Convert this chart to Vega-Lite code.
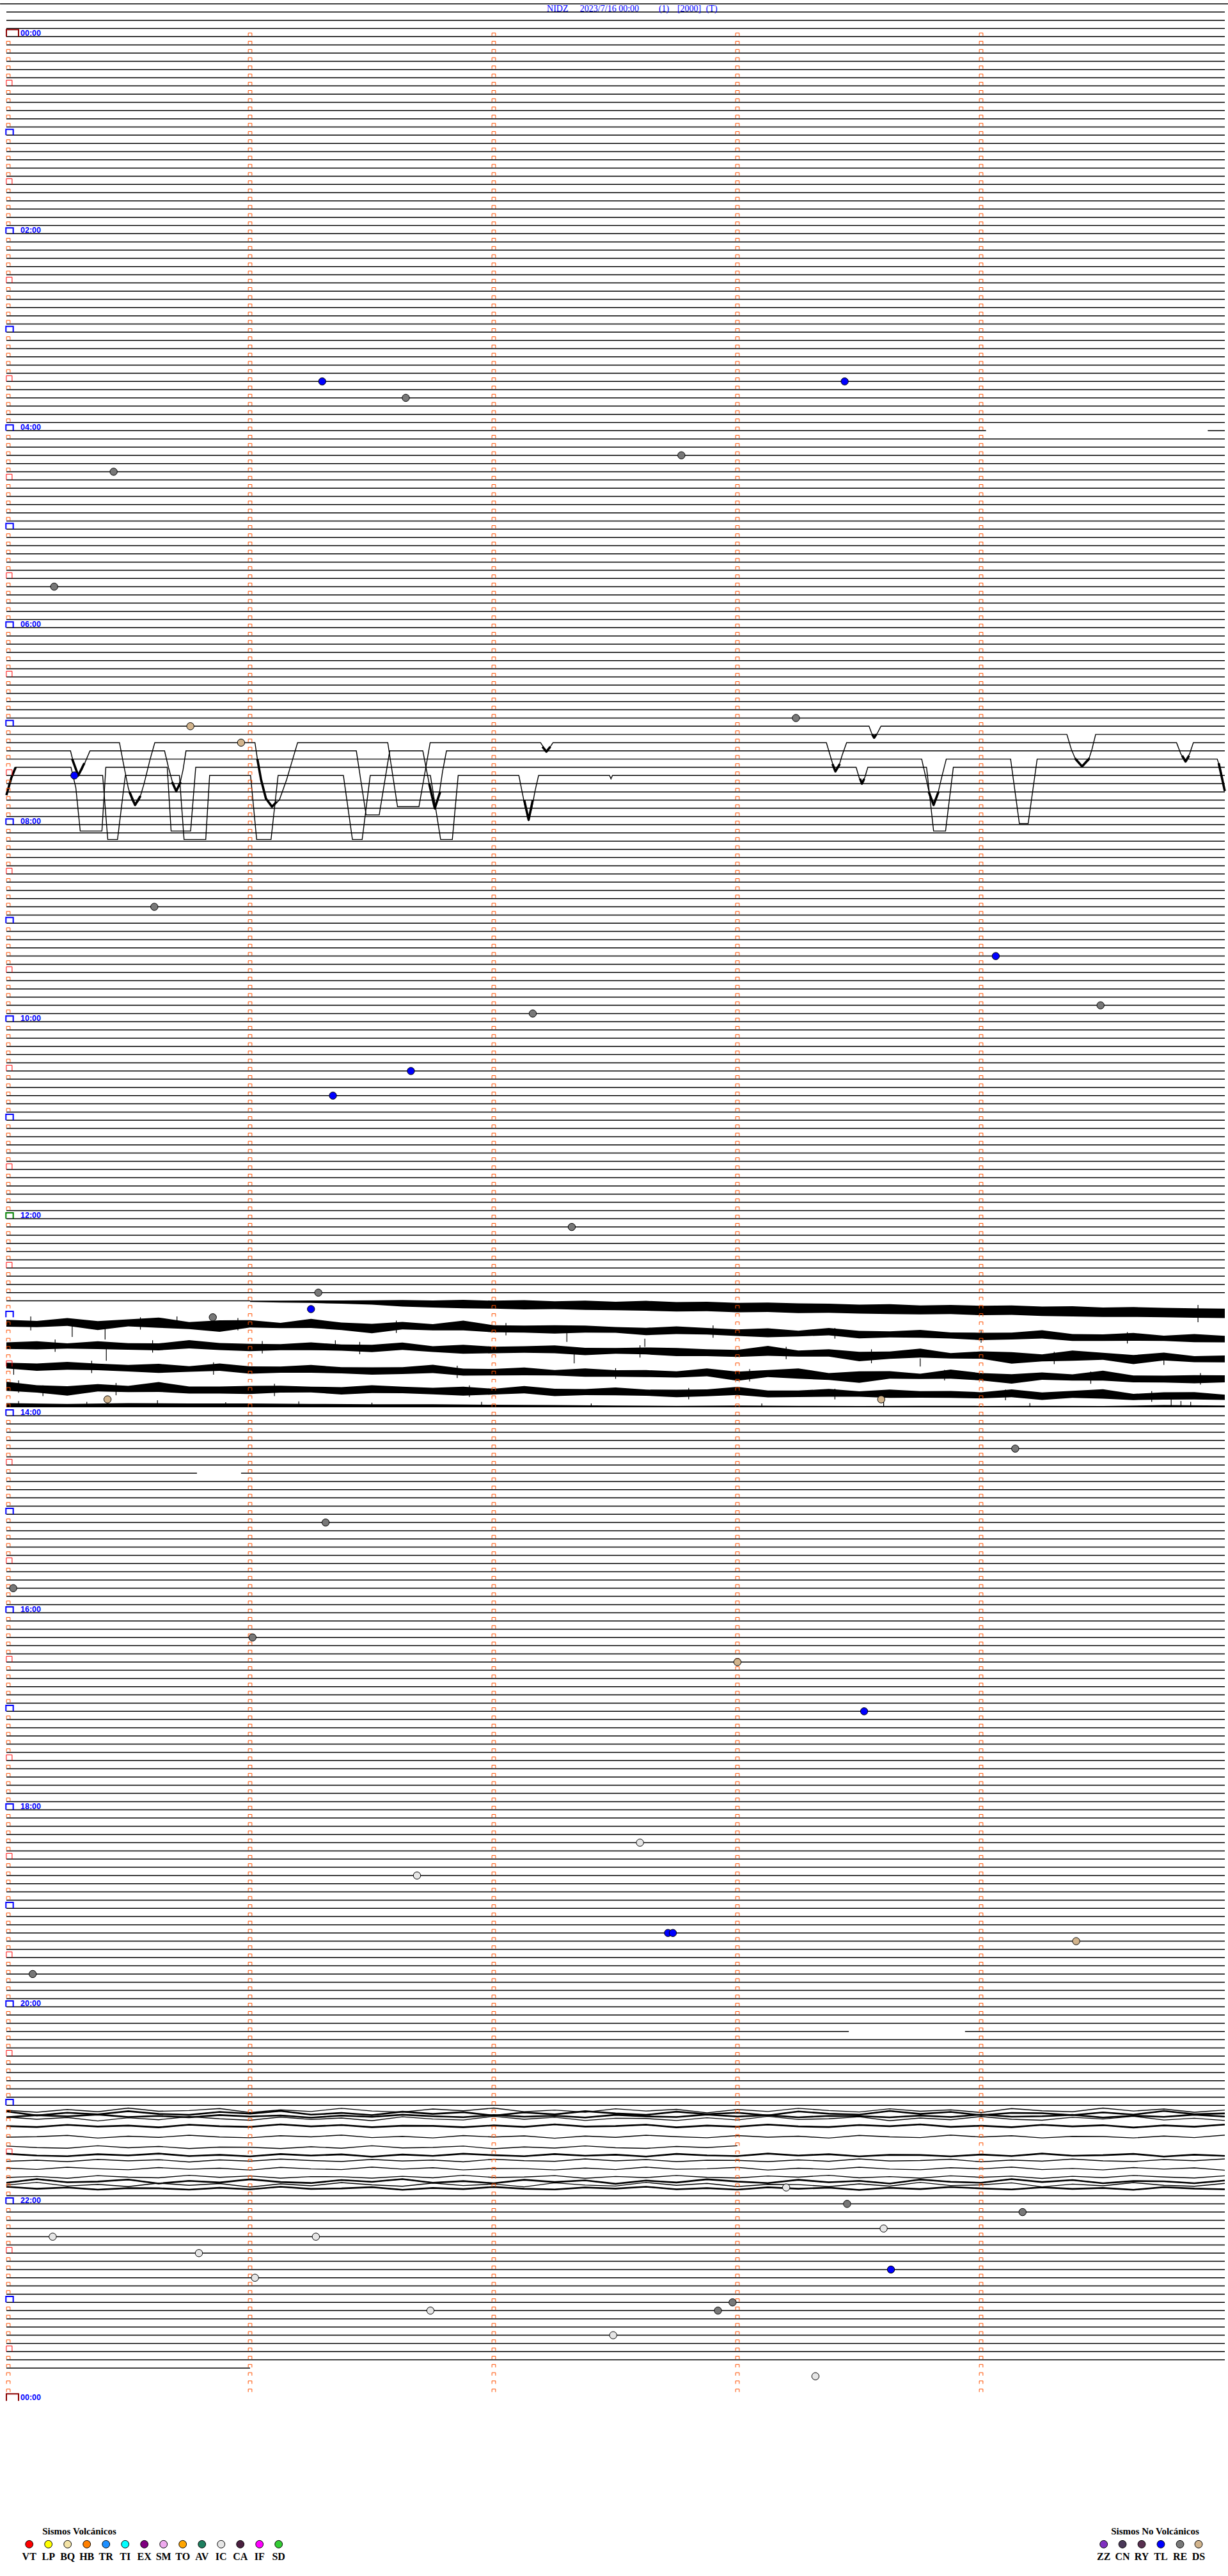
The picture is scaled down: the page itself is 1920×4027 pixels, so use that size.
{
"$schema":"https://vega.github.io/schema/vega-lite/v6.json",
"width":1920,"height":4027,"padding":0,"autosize":{"type":"none"},"background":"white",
"config":{"view":{"stroke":null}},
"datasets":{
"rows":[{"r":-4},{"r":-3},{"r":-2},{"r":-1},{"r":0},{"r":1},{"r":2},{"r":3},{"r":4},{"r":5},{"r":6},{"r":7},{"r":8},{"r":9},{"r":10},{"r":11},{"r":12},{"r":13},{"r":14},{"r":15},{"r":16},{"r":17},{"r":18},{"r":19},{"r":20},{"r":21},{"r":22},{"r":23},{"r":24},{"r":25},{"r":26},{"r":27},{"r":28},{"r":29},{"r":30},{"r":31},{"r":32},{"r":33},{"r":34},{"r":35},{"r":36},{"r":37},{"r":38},{"r":39},{"r":40},{"r":41},{"r":42},{"r":43},{"r":44},{"r":45},{"r":46},{"r":47},{"r":48},{"r":49},{"r":50},{"r":51},{"r":52},{"r":53},{"r":54},{"r":55},{"r":56},{"r":57},{"r":58},{"r":59},{"r":60},{"r":61},{"r":62},{"r":63},{"r":64},{"r":65},{"r":66},{"r":67},{"r":68},{"r":69},{"r":70},{"r":71},{"r":72},{"r":73},{"r":74},{"r":75},{"r":76},{"r":77},{"r":78},{"r":79},{"r":80},{"r":81},{"r":82},{"r":83},{"r":84},{"r":85},{"r":86},{"r":87},{"r":88},{"r":89},{"r":90},{"r":91},{"r":92},{"r":93},{"r":94},{"r":95},{"r":96},{"r":97},{"r":98},{"r":99},{"r":100},{"r":101},{"r":102},{"r":103},{"r":104},{"r":105},{"r":106},{"r":107},{"r":108},{"r":109},{"r":110},{"r":111},{"r":112},{"r":113},{"r":114},{"r":115},{"r":116},{"r":117},{"r":118},{"r":119},{"r":120},{"r":121},{"r":122},{"r":123},{"r":124},{"r":125},{"r":126},{"r":127},{"r":128},{"r":129},{"r":130},{"r":131},{"r":132},{"r":133},{"r":134},{"r":135},{"r":136},{"r":137},{"r":138},{"r":139},{"r":140},{"r":141},{"r":142},{"r":143},{"r":144},{"r":145},{"r":146},{"r":147},{"r":148},{"r":149},{"r":150},{"r":151},{"r":152},{"r":153},{"r":154},{"r":155},{"r":156},{"r":157},{"r":158},{"r":159},{"r":160},{"r":161},{"r":162},{"r":163},{"r":164},{"r":165},{"r":166},{"r":167},{"r":168},{"r":169},{"r":170},{"r":171},{"r":172},{"r":173},{"r":174},{"r":175},{"r":176},{"r":177},{"r":178},{"r":179},{"r":180},{"r":181},{"r":182},{"r":183},{"r":184},{"r":185},{"r":186},{"r":187},{"r":188},{"r":189},{"r":190},{"r":191},{"r":192},{"r":193},{"r":194},{"r":195},{"r":196},{"r":197},{"r":198},{"r":199},{"r":200},{"r":201},{"r":202},{"r":203},{"r":204},{"r":205},{"r":206},{"r":207},{"r":208},{"r":209},{"r":210},{"r":211},{"r":212},{"r":213},{"r":214},{"r":215},{"r":216},{"r":217},{"r":218},{"r":219},{"r":220},{"r":221},{"r":222},{"r":223},{"r":224},{"r":225},{"r":226},{"r":227},{"r":228},{"r":229},{"r":230},{"r":231},{"r":232},{"r":233},{"r":234},{"r":235},{"r":236},{"r":237},{"r":238},{"r":239},{"r":240},{"r":241},{"r":242},{"r":243},{"r":244},{"r":245},{"r":246},{"r":247},{"r":248},{"r":249},{"r":250},{"r":251},{"r":252},{"r":253},{"r":254},{"r":255},{"r":256},{"r":257},{"r":258},{"r":259},{"r":260},{"r":261},{"r":262},{"r":263},{"r":264},{"r":265},{"r":266},{"r":267},{"r":268},{"r":269},{"r":270},{"r":271},{"r":272},{"r":273},{"r":274},{"r":275},{"r":276},{"r":277},{"r":278},{"r":279},{"r":280},{"r":281},{"r":282},{"r":283},{"r":284},{"r":285},{"r":286},{"r":287},{"r":288}],
"segs":[{"r":-4,"t0":-0.026,"t1":5.013},{"r":48,"t0":0,"t1":4.02},{"r":48,"t0":4.93,"t1":5},{"r":154,"t0":0,"t1":1.0},{"r":175,"t0":0,"t1":0.782},{"r":175,"t0":0.963,"t1":5},{"r":243,"t0":0,"t1":3.457},{"r":243,"t0":3.934,"t1":5},{"r":284,"t0":0,"t1":1.0},{"r":166.9,"t0":0,"t1":5}],
"trx":[
{"k":"x1","t":0.27,"v":88},{"k":"x1","t":0.295,"v":90},{"k":"x1","t":0.32,"v":88.5},
{"k":"x2","t":0.505,"v":92},{"k":"x2","t":0.528,"v":93.6},{"k":"x2","t":0.55,"v":92.5},
{"k":"x3","t":0.68,"v":90.8},{"k":"x3","t":0.697,"v":91.9},{"k":"x3","t":0.715,"v":90.8},
{"k":"x4","t":1.03,"v":88},{"k":"x4","t":1.045,"v":90.5},{"k":"x4","t":1.065,"v":92.8},{"k":"x4","t":1.09,"v":93.8},{"k":"x4","t":1.11,"v":93.2},
{"k":"x5","t":1.735,"v":91},{"k":"x5","t":1.758,"v":94.0},{"k":"x5","t":1.78,"v":92},
{"k":"x6","t":2.2,"v":86.5},{"k":"x6","t":2.216,"v":87.1},{"k":"x6","t":2.232,"v":86.5},
{"k":"x7","t":2.125,"v":93},{"k":"x7","t":2.143,"v":95.4},{"k":"x7","t":2.16,"v":93},
{"k":"x8","t":3.39,"v":88.6},{"k":"x8","t":3.402,"v":89.5},{"k":"x8","t":3.42,"v":88.6},
{"k":"x9","t":3.503,"v":90.4},{"k":"x9","t":3.511,"v":91.0},{"k":"x9","t":3.52,"v":90.4},
{"k":"x10","t":3.553,"v":85},{"k":"x10","t":3.561,"v":85.4},{"k":"x10","t":3.57,"v":85},
{"k":"x11","t":3.785,"v":92},{"k":"x11","t":3.805,"v":93.6},{"k":"x11","t":3.825,"v":92},
{"k":"x12","t":4.385,"v":87.9},{"k":"x12","t":4.414,"v":88.9},{"k":"x12","t":4.445,"v":87.9},
{"k":"x13","t":4.825,"v":87.6},{"k":"x13","t":4.839,"v":88.3},{"k":"x13","t":4.853,"v":87.6},
{"k":"x14","t":0,"v":92.4},{"k":"x14","t":0.02,"v":90.3},{"k":"x14","t":0.038,"v":89},
{"k":"x15","t":4.975,"v":88.5},{"k":"x15","t":5,"v":91.9}
],
"tr":[
{"k":"A84","t":0,"v":84},{"k":"A84","t":3.54,"v":84},{"k":"A84","t":3.55,"v":84.8},{"k":"A84","t":3.561,"v":85.4},{"k":"A84","t":3.575,"v":84.8},{"k":"A84","t":3.589,"v":84},{"k":"A84","t":5,"v":84},
{"k":"A85","t":0,"v":85},{"k":"A85","t":4.352,"v":85},{"k":"A85","t":4.37,"v":86.8},{"k":"A85","t":4.39,"v":88.2},{"k":"A85","t":4.414,"v":88.9},{"k":"A85","t":4.44,"v":88.2},{"k":"A85","t":4.455,"v":86.8},{"k":"A85","t":4.47,"v":85},{"k":"A85","t":5,"v":85},
{"k":"A86","t":0,"v":86},{"k":"A86","t":0.464,"v":86},{"k":"A86","t":0.48,"v":88.5},{"k":"A86","t":0.5,"v":91.5},{"k":"A86","t":0.515,"v":93.0},{"k":"A86","t":0.528,"v":93.6},{"k":"A86","t":0.545,"v":93.0},{"k":"A86","t":0.565,"v":91.0},{"k":"A86","t":0.59,"v":88.0},{"k":"A86","t":0.609,"v":86},{"k":"A86","t":1.02,"v":86},{"k":"A86","t":1.03,"v":88},{"k":"A86","t":1.045,"v":90.5},{"k":"A86","t":1.065,"v":92.8},{"k":"A86","t":1.09,"v":93.8},{"k":"A86","t":1.12,"v":93.0},{"k":"A86","t":1.15,"v":90.5},{"k":"A86","t":1.175,"v":88},{"k":"A86","t":1.195,"v":86},{"k":"A86","t":1.565,"v":86},{"k":"A86","t":1.605,"v":93.8},{"k":"A86","t":1.693,"v":93.8},{"k":"A86","t":1.739,"v":86},{"k":"A86","t":2.192,"v":86},{"k":"A86","t":2.205,"v":86.6},{"k":"A86","t":2.216,"v":87.1},{"k":"A86","t":2.23,"v":86.6},{"k":"A86","t":2.243,"v":86},{"k":"A86","t":3.365,"v":86},{"k":"A86","t":3.38,"v":87.5},{"k":"A86","t":3.395,"v":89.0},{"k":"A86","t":3.402,"v":89.5},{"k":"A86","t":3.415,"v":89.0},{"k":"A86","t":3.43,"v":87.5},{"k":"A86","t":3.448,"v":86},{"k":"A86","t":4.802,"v":86},{"k":"A86","t":4.82,"v":87.4},{"k":"A86","t":4.839,"v":88.3},{"k":"A86","t":4.855,"v":87.4},{"k":"A86","t":4.871,"v":86},{"k":"A86","t":5,"v":86},
{"k":"A87","t":0,"v":87},{"k":"A87","t":0.263,"v":87},{"k":"A87","t":0.28,"v":89.0},{"k":"A87","t":0.295,"v":90.0},{"k":"A87","t":0.31,"v":89.3},{"k":"A87","t":0.343,"v":87},{"k":"A87","t":0.649,"v":87},{"k":"A87","t":0.665,"v":89},{"k":"A87","t":0.685,"v":91.2},{"k":"A87","t":0.697,"v":91.9},{"k":"A87","t":0.71,"v":91.3},{"k":"A87","t":0.725,"v":89.3},{"k":"A87","t":0.737,"v":87},{"k":"A87","t":1.436,"v":87},{"k":"A87","t":1.476,"v":94.8},{"k":"A87","t":1.53,"v":94.8},{"k":"A87","t":1.573,"v":87},{"k":"A87","t":1.709,"v":87},{"k":"A87","t":1.725,"v":89.5},{"k":"A87","t":1.745,"v":92.5},{"k":"A87","t":1.758,"v":94.0},{"k":"A87","t":1.775,"v":92.5},{"k":"A87","t":1.79,"v":89.5},{"k":"A87","t":1.806,"v":87},{"k":"A87","t":5,"v":87},
{"k":"A88","t":0,"v":88},{"k":"A88","t":3.756,"v":88},{"k":"A88","t":3.775,"v":90.5},{"k":"A88","t":3.79,"v":92.5},{"k":"A88","t":3.805,"v":93.6},{"k":"A88","t":3.82,"v":92.5},{"k":"A88","t":3.84,"v":90.0},{"k":"A88","t":3.857,"v":88},{"k":"A88","t":4.121,"v":88},{"k":"A88","t":4.157,"v":95.86},{"k":"A88","t":4.193,"v":95.86},{"k":"A88","t":4.23,"v":88},{"k":"A88","t":4.969,"v":88},{"k":"A88","t":4.985,"v":89.5},{"k":"A88","t":5,"v":91.9},
{"k":"A89","t":0,"v":92.4},{"k":"A89","t":0.01,"v":91.5},{"k":"A89","t":0.02,"v":90.3},{"k":"A89","t":0.03,"v":89.5},{"k":"A89","t":0.038,"v":89},{"k":"A89","t":0.265,"v":89},{"k":"A89","t":0.285,"v":91.5},{"k":"A89","t":0.303,"v":96.77},{"k":"A89","t":0.392,"v":96.77},{"k":"A89","t":0.408,"v":89},{"k":"A89","t":0.66,"v":89},{"k":"A89","t":0.676,"v":96.77},{"k":"A89","t":0.756,"v":96.77},{"k":"A89","t":0.777,"v":89},{"k":"A89","t":3.487,"v":89},{"k":"A89","t":3.5,"v":90.3},{"k":"A89","t":3.511,"v":91.0},{"k":"A89","t":3.522,"v":90.3},{"k":"A89","t":3.535,"v":89},{"k":"A89","t":3.776,"v":89},{"k":"A89","t":3.805,"v":96.77},{"k":"A89","t":3.854,"v":96.77},{"k":"A89","t":3.886,"v":89},{"k":"A89","t":5,"v":89},
{"k":"A90","t":0,"v":90},{"k":"A90","t":0.395,"v":90},{"k":"A90","t":0.416,"v":97.8},{"k":"A90","t":0.456,"v":97.8},{"k":"A90","t":0.488,"v":90},{"k":"A90","t":0.71,"v":90},{"k":"A90","t":0.729,"v":97.8},{"k":"A90","t":0.818,"v":97.8},{"k":"A90","t":0.834,"v":90},{"k":"A90","t":1.002,"v":90},{"k":"A90","t":1.027,"v":97.8},{"k":"A90","t":1.086,"v":97.8},{"k":"A90","t":1.115,"v":90},{"k":"A90","t":1.383,"v":90},{"k":"A90","t":1.42,"v":97.8},{"k":"A90","t":1.46,"v":97.8},{"k":"A90","t":1.493,"v":90},{"k":"A90","t":1.74,"v":90},{"k":"A90","t":1.782,"v":97.8},{"k":"A90","t":1.83,"v":97.8},{"k":"A90","t":1.854,"v":90},{"k":"A90","t":2.103,"v":90},{"k":"A90","t":2.115,"v":91.8},{"k":"A90","t":2.13,"v":94.0},{"k":"A90","t":2.143,"v":95.4},{"k":"A90","t":2.156,"v":94.0},{"k":"A90","t":2.17,"v":91.8},{"k":"A90","t":2.184,"v":90},{"k":"A90","t":2.475,"v":90},{"k":"A90","t":2.481,"v":90.4},{"k":"A90","t":2.487,"v":90},{"k":"A90","t":5,"v":90},
{"k":"C1","t":0,"v":252.60},{"k":"C1","t":0.125,"v":252.84},{"k":"C1","t":0.25,"v":252.51},{"k":"C1","t":0.375,"v":252.78},{"k":"C1","t":0.5,"v":252.33},{"k":"C1","t":0.625,"v":252.72},{"k":"C1","t":0.75,"v":252.63},{"k":"C1","t":0.875,"v":252.39},{"k":"C1","t":1,"v":252.87},{"k":"C1","t":1.125,"v":252.54},{"k":"C1","t":1.25,"v":252.75},{"k":"C1","t":1.375,"v":252.36},{"k":"C1","t":1.5,"v":252.69},{"k":"C1","t":1.625,"v":252.81},{"k":"C1","t":1.75,"v":252.45},{"k":"C1","t":1.875,"v":252.66},{"k":"C1","t":2,"v":252.33},{"k":"C1","t":2.125,"v":252.78},{"k":"C1","t":2.25,"v":252.57},{"k":"C1","t":2.375,"v":252.84},{"k":"C1","t":2.5,"v":252.42},{"k":"C1","t":2.625,"v":252.69},{"k":"C1","t":2.75,"v":252.48},{"k":"C1","t":2.875,"v":252.90},{"k":"C1","t":3,"v":252.51},{"k":"C1","t":3.125,"v":252.75},{"k":"C1","t":3.25,"v":252.36},{"k":"C1","t":3.375,"v":252.63},{"k":"C1","t":3.5,"v":252.81},{"k":"C1","t":3.625,"v":252.42},{"k":"C1","t":3.75,"v":252.72},{"k":"C1","t":3.875,"v":252.54},{"k":"C1","t":4,"v":252.87},{"k":"C1","t":4.125,"v":252.39},{"k":"C1","t":4.25,"v":252.66},{"k":"C1","t":4.375,"v":252.78},{"k":"C1","t":4.5,"v":252.33},{"k":"C1","t":4.625,"v":252.69},{"k":"C1","t":4.75,"v":252.45},{"k":"C1","t":4.875,"v":252.84},{"k":"C1","t":5,"v":252.57},
{"k":"C2","t":0,"v":252.74},{"k":"C2","t":0.125,"v":253.22},{"k":"C2","t":0.25,"v":252.89},{"k":"C2","t":0.375,"v":253.10},{"k":"C2","t":0.5,"v":252.71},{"k":"C2","t":0.625,"v":253.04},{"k":"C2","t":0.75,"v":253.16},{"k":"C2","t":0.875,"v":252.80},{"k":"C2","t":1,"v":253.01},{"k":"C2","t":1.125,"v":252.68},{"k":"C2","t":1.25,"v":253.13},{"k":"C2","t":1.375,"v":252.92},{"k":"C2","t":1.5,"v":253.19},{"k":"C2","t":1.625,"v":252.77},{"k":"C2","t":1.75,"v":253.04},{"k":"C2","t":1.875,"v":252.83},{"k":"C2","t":2,"v":253.25},{"k":"C2","t":2.125,"v":252.86},{"k":"C2","t":2.25,"v":253.10},{"k":"C2","t":2.375,"v":252.71},{"k":"C2","t":2.5,"v":252.98},{"k":"C2","t":2.625,"v":253.16},{"k":"C2","t":2.75,"v":252.77},{"k":"C2","t":2.875,"v":253.07},{"k":"C2","t":3,"v":252.89},{"k":"C2","t":3.125,"v":253.22},{"k":"C2","t":3.25,"v":252.74},{"k":"C2","t":3.375,"v":253.01},{"k":"C2","t":3.5,"v":253.13},{"k":"C2","t":3.625,"v":252.68},{"k":"C2","t":3.75,"v":253.04},{"k":"C2","t":3.875,"v":252.80},{"k":"C2","t":4,"v":253.19},{"k":"C2","t":4.125,"v":252.92},{"k":"C2","t":4.25,"v":252.95},{"k":"C2","t":4.375,"v":253.19},{"k":"C2","t":4.5,"v":252.86},{"k":"C2","t":4.625,"v":253.13},{"k":"C2","t":4.75,"v":252.68},{"k":"C2","t":4.875,"v":253.07},{"k":"C2","t":5,"v":252.98},
{"k":"C3","t":0,"v":253.44},{"k":"C3","t":0.125,"v":253.20},{"k":"C3","t":0.25,"v":253.34},{"k":"C3","t":0.375,"v":253.12},{"k":"C3","t":0.5,"v":253.42},{"k":"C3","t":0.625,"v":253.28},{"k":"C3","t":0.75,"v":253.46},{"k":"C3","t":0.875,"v":253.18},{"k":"C3","t":1,"v":253.36},{"k":"C3","t":1.125,"v":253.22},{"k":"C3","t":1.25,"v":253.50},{"k":"C3","t":1.375,"v":253.24},{"k":"C3","t":1.5,"v":253.40},{"k":"C3","t":1.625,"v":253.14},{"k":"C3","t":1.75,"v":253.32},{"k":"C3","t":1.875,"v":253.44},{"k":"C3","t":2,"v":253.18},{"k":"C3","t":2.125,"v":253.38},{"k":"C3","t":2.25,"v":253.26},{"k":"C3","t":2.375,"v":253.48},{"k":"C3","t":2.5,"v":253.16},{"k":"C3","t":2.625,"v":253.34},{"k":"C3","t":2.75,"v":253.42},{"k":"C3","t":2.875,"v":253.12},{"k":"C3","t":3,"v":253.36},{"k":"C3","t":3.125,"v":253.20},{"k":"C3","t":3.25,"v":253.46},{"k":"C3","t":3.375,"v":253.28},{"k":"C3","t":3.5,"v":253.30},{"k":"C3","t":3.625,"v":253.46},{"k":"C3","t":3.75,"v":253.24},{"k":"C3","t":3.875,"v":253.42},{"k":"C3","t":4,"v":253.12},{"k":"C3","t":4.125,"v":253.38},{"k":"C3","t":4.25,"v":253.32},{"k":"C3","t":4.375,"v":253.16},{"k":"C3","t":4.5,"v":253.48},{"k":"C3","t":4.625,"v":253.26},{"k":"C3","t":4.75,"v":253.40},{"k":"C3","t":4.875,"v":253.14},{"k":"C3","t":5,"v":253.36},
{"k":"C4","t":0,"v":253.42},{"k":"C4","t":0.125,"v":253.69},{"k":"C4","t":0.25,"v":253.48},{"k":"C4","t":0.375,"v":253.90},{"k":"C4","t":0.5,"v":253.51},{"k":"C4","t":0.625,"v":253.75},{"k":"C4","t":0.75,"v":253.36},{"k":"C4","t":0.875,"v":253.63},{"k":"C4","t":1,"v":253.81},{"k":"C4","t":1.125,"v":253.42},{"k":"C4","t":1.25,"v":253.72},{"k":"C4","t":1.375,"v":253.54},{"k":"C4","t":1.5,"v":253.87},{"k":"C4","t":1.625,"v":253.39},{"k":"C4","t":1.75,"v":253.66},{"k":"C4","t":1.875,"v":253.78},{"k":"C4","t":2,"v":253.33},{"k":"C4","t":2.125,"v":253.69},{"k":"C4","t":2.25,"v":253.45},{"k":"C4","t":2.375,"v":253.84},{"k":"C4","t":2.5,"v":253.57},{"k":"C4","t":2.625,"v":253.60},{"k":"C4","t":2.75,"v":253.84},{"k":"C4","t":2.875,"v":253.51},{"k":"C4","t":3,"v":253.78},{"k":"C4","t":3.125,"v":253.33},{"k":"C4","t":3.25,"v":253.72},{"k":"C4","t":3.375,"v":253.63},{"k":"C4","t":3.5,"v":253.39},{"k":"C4","t":3.625,"v":253.87},{"k":"C4","t":3.75,"v":253.54},{"k":"C4","t":3.875,"v":253.75},{"k":"C4","t":4,"v":253.36},{"k":"C4","t":4.125,"v":253.69},{"k":"C4","t":4.25,"v":253.81},{"k":"C4","t":4.375,"v":253.45},{"k":"C4","t":4.5,"v":253.66},{"k":"C4","t":4.625,"v":253.33},{"k":"C4","t":4.75,"v":253.78},{"k":"C4","t":4.875,"v":253.57},{"k":"C4","t":5,"v":253.84},
{"k":"C5","t":0,"v":254.52},{"k":"C5","t":0.125,"v":254.64},{"k":"C5","t":0.25,"v":254.38},{"k":"C5","t":0.375,"v":254.58},{"k":"C5","t":0.5,"v":254.46},{"k":"C5","t":0.625,"v":254.68},{"k":"C5","t":0.75,"v":254.36},{"k":"C5","t":0.875,"v":254.54},{"k":"C5","t":1,"v":254.62},{"k":"C5","t":1.125,"v":254.32},{"k":"C5","t":1.25,"v":254.56},{"k":"C5","t":1.375,"v":254.40},{"k":"C5","t":1.5,"v":254.66},{"k":"C5","t":1.625,"v":254.48},{"k":"C5","t":1.75,"v":254.50},{"k":"C5","t":1.875,"v":254.66},{"k":"C5","t":2,"v":254.44},{"k":"C5","t":2.125,"v":254.62},{"k":"C5","t":2.25,"v":254.32},{"k":"C5","t":2.375,"v":254.58},{"k":"C5","t":2.5,"v":254.52},{"k":"C5","t":2.625,"v":254.36},{"k":"C5","t":2.75,"v":254.68},{"k":"C5","t":2.875,"v":254.46},{"k":"C5","t":3,"v":254.60},{"k":"C5","t":3.125,"v":254.34},{"k":"C5","t":3.25,"v":254.56},{"k":"C5","t":3.375,"v":254.64},{"k":"C5","t":3.5,"v":254.40},{"k":"C5","t":3.625,"v":254.54},{"k":"C5","t":3.75,"v":254.32},{"k":"C5","t":3.875,"v":254.62},{"k":"C5","t":4,"v":254.48},{"k":"C5","t":4.125,"v":254.66},{"k":"C5","t":4.25,"v":254.38},{"k":"C5","t":4.375,"v":254.56},{"k":"C5","t":4.5,"v":254.42},{"k":"C5","t":4.625,"v":254.70},{"k":"C5","t":4.75,"v":254.44},{"k":"C5","t":4.875,"v":254.60},{"k":"C5","t":5,"v":254.34},
{"k":"C6","t":0,"v":255.88},{"k":"C6","t":0.125,"v":255.82},{"k":"C6","t":0.25,"v":255.66},{"k":"C6","t":0.375,"v":255.98},{"k":"C6","t":0.5,"v":255.76},{"k":"C6","t":0.625,"v":255.90},{"k":"C6","t":0.75,"v":255.64},{"k":"C6","t":0.875,"v":255.86},{"k":"C6","t":1,"v":255.94},{"k":"C6","t":1.125,"v":255.70},{"k":"C6","t":1.25,"v":255.84},{"k":"C6","t":1.375,"v":255.62},{"k":"C6","t":1.5,"v":255.92},{"k":"C6","t":1.625,"v":255.78},{"k":"C6","t":1.75,"v":255.96},{"k":"C6","t":1.875,"v":255.68},{"k":"C6","t":2,"v":255.86},{"k":"C6","t":2.125,"v":255.72},{"k":"C6","t":2.25,"v":256.00},{"k":"C6","t":2.375,"v":255.74},{"k":"C6","t":2.5,"v":255.90},{"k":"C6","t":2.625,"v":255.64},{"k":"C6","t":2.75,"v":255.82},{"k":"C6","t":2.875,"v":255.94},{"k":"C6","t":3,"v":255.68},{"k":"C6","t":3.125,"v":255.88},{"k":"C6","t":3.25,"v":255.76},{"k":"C6","t":3.375,"v":255.98},{"k":"C6","t":3.5,"v":255.66},{"k":"C6","t":3.625,"v":255.84},{"k":"C6","t":3.75,"v":255.92},{"k":"C6","t":3.875,"v":255.62},{"k":"C6","t":4,"v":255.86},{"k":"C6","t":4.125,"v":255.70},{"k":"C6","t":4.25,"v":255.96},{"k":"C6","t":4.375,"v":255.78},{"k":"C6","t":4.5,"v":255.80},{"k":"C6","t":4.625,"v":255.96},{"k":"C6","t":4.75,"v":255.74},{"k":"C6","t":4.875,"v":255.92},{"k":"C6","t":5,"v":255.62},
{"k":"C7","t":0,"v":256.96},{"k":"C7","t":0.125,"v":257.14},{"k":"C7","t":0.25,"v":257.22},{"k":"C7","t":0.375,"v":256.92},{"k":"C7","t":0.5,"v":257.16},{"k":"C7","t":0.625,"v":257.00},{"k":"C7","t":0.75,"v":257.26},{"k":"C7","t":0.875,"v":257.08},{"k":"C7","t":1,"v":257.10},{"k":"C7","t":1.125,"v":257.26},{"k":"C7","t":1.25,"v":257.04},{"k":"C7","t":1.375,"v":257.22},{"k":"C7","t":1.5,"v":256.92},{"k":"C7","t":1.625,"v":257.18},{"k":"C7","t":1.75,"v":257.12},{"k":"C7","t":1.875,"v":256.96},{"k":"C7","t":2,"v":257.28},{"k":"C7","t":2.125,"v":257.06},{"k":"C7","t":2.25,"v":257.20},{"k":"C7","t":2.375,"v":256.94},{"k":"C7","t":2.5,"v":257.16},{"k":"C7","t":2.625,"v":257.24},{"k":"C7","t":2.75,"v":257.00},{"k":"C7","t":2.875,"v":257.14},{"k":"C7","t":3,"v":256.92},
{"k":"C8","t":0,"v":257.89},{"k":"C8","t":0.125,"v":258.11},{"k":"C8","t":0.25,"v":258.19},{"k":"C8","t":0.375,"v":257.95},{"k":"C8","t":0.5,"v":258.09},{"k":"C8","t":0.625,"v":257.87},{"k":"C8","t":0.75,"v":258.17},{"k":"C8","t":0.875,"v":258.03},{"k":"C8","t":1,"v":258.21},{"k":"C8","t":1.125,"v":257.93},{"k":"C8","t":1.25,"v":258.11},{"k":"C8","t":1.375,"v":257.97},{"k":"C8","t":1.5,"v":258.25},{"k":"C8","t":1.625,"v":257.99},{"k":"C8","t":1.75,"v":258.15},{"k":"C8","t":1.875,"v":257.89},{"k":"C8","t":2,"v":258.07},{"k":"C8","t":2.125,"v":258.19},{"k":"C8","t":2.25,"v":257.93},{"k":"C8","t":2.375,"v":258.13},{"k":"C8","t":2.5,"v":258.01},{"k":"C8","t":2.625,"v":258.23},{"k":"C8","t":2.75,"v":257.91},{"k":"C8","t":2.875,"v":258.09},{"k":"C8","t":3,"v":258.17},{"k":"C8","t":3.125,"v":257.87},{"k":"C8","t":3.25,"v":258.11},{"k":"C8","t":3.375,"v":257.95},{"k":"C8","t":3.5,"v":258.21},{"k":"C8","t":3.625,"v":258.03},{"k":"C8","t":3.75,"v":258.05},{"k":"C8","t":3.875,"v":258.21},{"k":"C8","t":4,"v":257.99},{"k":"C8","t":4.125,"v":258.17},{"k":"C8","t":4.25,"v":257.87},{"k":"C8","t":4.375,"v":258.13},{"k":"C8","t":4.5,"v":258.07},{"k":"C8","t":4.625,"v":257.91},{"k":"C8","t":4.75,"v":258.23},{"k":"C8","t":4.875,"v":258.01},{"k":"C8","t":5,"v":258.15},
{"k":"C9","t":0,"v":258.82},{"k":"C9","t":0.125,"v":258.68},{"k":"C9","t":0.25,"v":258.86},{"k":"C9","t":0.375,"v":258.58},{"k":"C9","t":0.5,"v":258.76},{"k":"C9","t":0.625,"v":258.62},{"k":"C9","t":0.75,"v":258.90},{"k":"C9","t":0.875,"v":258.64},{"k":"C9","t":1,"v":258.80},{"k":"C9","t":1.125,"v":258.54},{"k":"C9","t":1.25,"v":258.72},{"k":"C9","t":1.375,"v":258.84},{"k":"C9","t":1.5,"v":258.58},{"k":"C9","t":1.625,"v":258.78},{"k":"C9","t":1.75,"v":258.66},{"k":"C9","t":1.875,"v":258.88},{"k":"C9","t":2,"v":258.56},{"k":"C9","t":2.125,"v":258.74},{"k":"C9","t":2.25,"v":258.82},{"k":"C9","t":2.375,"v":258.52},{"k":"C9","t":2.5,"v":258.76},{"k":"C9","t":2.625,"v":258.60},{"k":"C9","t":2.75,"v":258.86},{"k":"C9","t":2.875,"v":258.68},{"k":"C9","t":3,"v":258.70},{"k":"C9","t":3.125,"v":258.86},{"k":"C9","t":3.25,"v":258.64},{"k":"C9","t":3.375,"v":258.82},{"k":"C9","t":3.5,"v":258.52},{"k":"C9","t":3.625,"v":258.78},{"k":"C9","t":3.75,"v":258.72},{"k":"C9","t":3.875,"v":258.56},{"k":"C9","t":4,"v":258.88},{"k":"C9","t":4.125,"v":258.66},{"k":"C9","t":4.25,"v":258.80},{"k":"C9","t":4.375,"v":258.54},{"k":"C9","t":4.5,"v":258.76},{"k":"C9","t":4.625,"v":258.84},{"k":"C9","t":4.75,"v":258.60},{"k":"C9","t":4.875,"v":258.74},{"k":"C9","t":5,"v":258.52},
{"k":"C10","t":0,"v":259.64},{"k":"C10","t":0.125,"v":259.80},{"k":"C10","t":0.25,"v":259.54},{"k":"C10","t":0.375,"v":259.72},{"k":"C10","t":0.5,"v":259.84},{"k":"C10","t":0.625,"v":259.58},{"k":"C10","t":0.75,"v":259.78},{"k":"C10","t":0.875,"v":259.66},{"k":"C10","t":1,"v":259.88},{"k":"C10","t":1.125,"v":259.56},{"k":"C10","t":1.25,"v":259.74},{"k":"C10","t":1.375,"v":259.82},{"k":"C10","t":1.5,"v":259.52},{"k":"C10","t":1.625,"v":259.76},{"k":"C10","t":1.75,"v":259.60},{"k":"C10","t":1.875,"v":259.86},{"k":"C10","t":2,"v":259.68},{"k":"C10","t":2.125,"v":259.70},{"k":"C10","t":2.25,"v":259.86},{"k":"C10","t":2.375,"v":259.64},{"k":"C10","t":2.5,"v":259.82},{"k":"C10","t":2.625,"v":259.52},{"k":"C10","t":2.75,"v":259.78},{"k":"C10","t":2.875,"v":259.72},{"k":"C10","t":3,"v":259.56},{"k":"C10","t":3.125,"v":259.88},{"k":"C10","t":3.25,"v":259.66},{"k":"C10","t":3.375,"v":259.80},{"k":"C10","t":3.5,"v":259.54},{"k":"C10","t":3.625,"v":259.76},{"k":"C10","t":3.75,"v":259.84},{"k":"C10","t":3.875,"v":259.60},{"k":"C10","t":4,"v":259.74},{"k":"C10","t":4.125,"v":259.52},{"k":"C10","t":4.25,"v":259.82},{"k":"C10","t":4.375,"v":259.68},{"k":"C10","t":4.5,"v":259.86},{"k":"C10","t":4.625,"v":259.58},{"k":"C10","t":4.75,"v":259.76},{"k":"C10","t":4.875,"v":259.62},{"k":"C10","t":5,"v":259.90},
{"k":"C11","t":0,"v":260.78},{"k":"C11","t":0.125,"v":260.66},{"k":"C11","t":0.25,"v":260.88},{"k":"C11","t":0.375,"v":260.56},{"k":"C11","t":0.5,"v":260.74},{"k":"C11","t":0.625,"v":260.82},{"k":"C11","t":0.75,"v":260.52},{"k":"C11","t":0.875,"v":260.76},{"k":"C11","t":1,"v":260.60},{"k":"C11","t":1.125,"v":260.86},{"k":"C11","t":1.25,"v":260.68},{"k":"C11","t":1.375,"v":260.70},{"k":"C11","t":1.5,"v":260.86},{"k":"C11","t":1.625,"v":260.64},{"k":"C11","t":1.75,"v":260.82},{"k":"C11","t":1.875,"v":260.52},{"k":"C11","t":2,"v":260.78},{"k":"C11","t":2.125,"v":260.72},{"k":"C11","t":2.25,"v":260.56},{"k":"C11","t":2.375,"v":260.88},{"k":"C11","t":2.5,"v":260.66},{"k":"C11","t":2.625,"v":260.80},{"k":"C11","t":2.75,"v":260.54},{"k":"C11","t":2.875,"v":260.76},{"k":"C11","t":3,"v":260.84},{"k":"C11","t":3.125,"v":260.60},{"k":"C11","t":3.25,"v":260.74},{"k":"C11","t":3.375,"v":260.52},{"k":"C11","t":3.5,"v":260.82},{"k":"C11","t":3.625,"v":260.68},{"k":"C11","t":3.75,"v":260.86},{"k":"C11","t":3.875,"v":260.58},{"k":"C11","t":4,"v":260.76},{"k":"C11","t":4.125,"v":260.62},{"k":"C11","t":4.25,"v":260.90},{"k":"C11","t":4.375,"v":260.64},{"k":"C11","t":4.5,"v":260.80},{"k":"C11","t":4.625,"v":260.54},{"k":"C11","t":4.75,"v":260.72},{"k":"C11","t":4.875,"v":260.84},{"k":"C11","t":5,"v":260.58},
{"k":"C12","t":0,"v":261.43},{"k":"C12","t":0.125,"v":260.98},{"k":"C12","t":0.25,"v":261.37},{"k":"C12","t":0.375,"v":261.28},{"k":"C12","t":0.5,"v":261.04},{"k":"C12","t":0.625,"v":261.52},{"k":"C12","t":0.75,"v":261.19},{"k":"C12","t":0.875,"v":261.40},{"k":"C12","t":1,"v":261.01},{"k":"C12","t":1.125,"v":261.34},{"k":"C12","t":1.25,"v":261.46},{"k":"C12","t":1.375,"v":261.10},{"k":"C12","t":1.5,"v":261.31},{"k":"C12","t":1.625,"v":260.98},{"k":"C12","t":1.75,"v":261.43},{"k":"C12","t":1.875,"v":261.22},{"k":"C12","t":2,"v":261.49},{"k":"C12","t":2.125,"v":261.07},{"k":"C12","t":2.25,"v":261.34},{"k":"C12","t":2.375,"v":261.13},{"k":"C12","t":2.5,"v":261.55},{"k":"C12","t":2.625,"v":261.16},{"k":"C12","t":2.75,"v":261.40},{"k":"C12","t":2.875,"v":261.01},{"k":"C12","t":3,"v":261.28},{"k":"C12","t":3.125,"v":261.46},{"k":"C12","t":3.25,"v":261.07},{"k":"C12","t":3.375,"v":261.37},{"k":"C12","t":3.5,"v":261.19},{"k":"C12","t":3.625,"v":261.52},{"k":"C12","t":3.75,"v":261.04},{"k":"C12","t":3.875,"v":261.31},{"k":"C12","t":4,"v":261.43},{"k":"C12","t":4.125,"v":260.98},{"k":"C12","t":4.25,"v":261.34},{"k":"C12","t":4.375,"v":261.10},{"k":"C12","t":4.5,"v":261.49},{"k":"C12","t":4.625,"v":261.22},{"k":"C12","t":4.75,"v":261.25},{"k":"C12","t":4.875,"v":261.49},{"k":"C12","t":5,"v":261.16},
{"k":"C13","t":0,"v":261.71},{"k":"C13","t":0.125,"v":261.38},{"k":"C13","t":0.25,"v":261.83},{"k":"C13","t":0.375,"v":261.62},{"k":"C13","t":0.5,"v":261.89},{"k":"C13","t":0.625,"v":261.47},{"k":"C13","t":0.75,"v":261.74},{"k":"C13","t":0.875,"v":261.53},{"k":"C13","t":1,"v":261.95},{"k":"C13","t":1.125,"v":261.56},{"k":"C13","t":1.25,"v":261.80},{"k":"C13","t":1.375,"v":261.41},{"k":"C13","t":1.5,"v":261.68},{"k":"C13","t":1.625,"v":261.86},{"k":"C13","t":1.75,"v":261.47},{"k":"C13","t":1.875,"v":261.77},{"k":"C13","t":2,"v":261.59},{"k":"C13","t":2.125,"v":261.92},{"k":"C13","t":2.25,"v":261.44},{"k":"C13","t":2.375,"v":261.71},{"k":"C13","t":2.5,"v":261.83},{"k":"C13","t":2.625,"v":261.38},{"k":"C13","t":2.75,"v":261.74},{"k":"C13","t":2.875,"v":261.50},{"k":"C13","t":3,"v":261.89},{"k":"C13","t":3.125,"v":261.62},{"k":"C13","t":3.25,"v":261.65},{"k":"C13","t":3.375,"v":261.89},{"k":"C13","t":3.5,"v":261.56},{"k":"C13","t":3.625,"v":261.83},{"k":"C13","t":3.75,"v":261.38},{"k":"C13","t":3.875,"v":261.77},{"k":"C13","t":4,"v":261.68},{"k":"C13","t":4.125,"v":261.44},{"k":"C13","t":4.25,"v":261.92},{"k":"C13","t":4.375,"v":261.59},{"k":"C13","t":4.5,"v":261.80},{"k":"C13","t":4.625,"v":261.41},{"k":"C13","t":4.75,"v":261.74},{"k":"C13","t":4.875,"v":261.86},{"k":"C13","t":5,"v":261.50},
{"k":"C14","t":0,"v":261.92},{"k":"C14","t":0.125,"v":262.16},{"k":"C14","t":0.25,"v":262.00},{"k":"C14","t":0.375,"v":262.26},{"k":"C14","t":0.5,"v":262.08},{"k":"C14","t":0.625,"v":262.10},{"k":"C14","t":0.75,"v":262.26},{"k":"C14","t":0.875,"v":262.04},{"k":"C14","t":1,"v":262.22},{"k":"C14","t":1.125,"v":261.92},{"k":"C14","t":1.25,"v":262.18},{"k":"C14","t":1.375,"v":262.12},{"k":"C14","t":1.5,"v":261.96},{"k":"C14","t":1.625,"v":262.28},{"k":"C14","t":1.75,"v":262.06},{"k":"C14","t":1.875,"v":262.20},{"k":"C14","t":2,"v":261.94},{"k":"C14","t":2.125,"v":262.16},{"k":"C14","t":2.25,"v":262.24},{"k":"C14","t":2.375,"v":262.00},{"k":"C14","t":2.5,"v":262.14},{"k":"C14","t":2.625,"v":261.92},{"k":"C14","t":2.75,"v":262.22},{"k":"C14","t":2.875,"v":262.08},{"k":"C14","t":3,"v":262.26},{"k":"C14","t":3.125,"v":261.98},{"k":"C14","t":3.25,"v":262.16},{"k":"C14","t":3.375,"v":262.02},{"k":"C14","t":3.5,"v":262.30},{"k":"C14","t":3.625,"v":262.04},{"k":"C14","t":3.75,"v":262.20},{"k":"C14","t":3.875,"v":261.94},{"k":"C14","t":4,"v":262.12},{"k":"C14","t":4.125,"v":262.24},{"k":"C14","t":4.25,"v":261.98},{"k":"C14","t":4.375,"v":262.18},{"k":"C14","t":4.5,"v":262.06},{"k":"C14","t":4.625,"v":262.28},{"k":"C14","t":4.75,"v":261.96},{"k":"C14","t":4.875,"v":262.14},{"k":"C14","t":5,"v":262.22}
],
"bands":[
{"b":"B1","t":1.0,"lo":153.98,"hi":154.12},{"b":"B1","t":1.125,"lo":153.97,"hi":154.2},{"b":"B1","t":1.25,"lo":153.96,"hi":154.25},{"b":"B1","t":1.375,"lo":153.95,"hi":154.35},{"b":"B1","t":1.5,"lo":153.94,"hi":154.45},{"b":"B1","t":1.625,"lo":153.9,"hi":154.7},{"b":"B1","t":1.75,"lo":153.95,"hi":154.8},{"b":"B1","t":1.875,"lo":153.88,"hi":154.9},{"b":"B1","t":2.0,"lo":153.98,"hi":154.95},{"b":"B1","t":2.125,"lo":153.92,"hi":155.05},{"b":"B1","t":2.25,"lo":154.05,"hi":155.0},{"b":"B1","t":2.375,"lo":153.97,"hi":155.1},{"b":"B1","t":2.5,"lo":154.1,"hi":155.15},{"b":"B1","t":2.625,"lo":154.0,"hi":155.2},{"b":"B1","t":2.75,"lo":154.15,"hi":155.3},{"b":"B1","t":2.875,"lo":154.1,"hi":155.25},{"b":"B1","t":3.0,"lo":154.25,"hi":155.4},{"b":"B1","t":3.125,"lo":154.2,"hi":155.35},{"b":"B1","t":3.25,"lo":154.3,"hi":155.5},{"b":"B1","t":3.375,"lo":154.35,"hi":155.45},{"b":"B1","t":3.5,"lo":154.45,"hi":155.55},{"b":"B1","t":3.625,"lo":154.4,"hi":155.6},{"b":"B1","t":3.75,"lo":154.55,"hi":155.65},{"b":"B1","t":3.875,"lo":154.5,"hi":155.6},{"b":"B1","t":4.0,"lo":154.6,"hi":155.75},{"b":"B1","t":4.125,"lo":154.55,"hi":155.7},{"b":"B1","t":4.25,"lo":154.7,"hi":155.85},{"b":"B1","t":4.375,"lo":154.65,"hi":155.9},{"b":"B1","t":4.5,"lo":154.8,"hi":155.95},{"b":"B1","t":4.625,"lo":154.75,"hi":155.95},{"b":"B1","t":4.75,"lo":154.85,"hi":156.0},{"b":"B1","t":4.875,"lo":154.9,"hi":156.05},{"b":"B1","t":5.0,"lo":154.95,"hi":156.1},
{"b":"B2","t":0,"lo":156.30,"hi":157.15},{"b":"B2","t":0.125,"lo":156.45,"hi":157.20},{"b":"B2","t":0.25,"lo":156.09,"hi":157.04},{"b":"B2","t":0.375,"lo":156.46,"hi":157.56},{"b":"B2","t":0.5,"lo":156.25,"hi":157.10},{"b":"B2","t":0.625,"lo":156.03,"hi":157.28},{"b":"B2","t":0.75,"lo":156.58,"hi":157.43},{"b":"B2","t":0.875,"lo":156.37,"hi":157.77},{"b":"B2","t":1,"lo":156.35,"hi":157.25},{"b":"B2","t":1.125,"lo":156.67,"hi":157.32},{"b":"B2","t":1.25,"lo":156.20,"hi":157.30},{"b":"B2","t":1.375,"lo":156.65,"hi":157.55},{"b":"B2","t":1.5,"lo":156.80,"hi":157.95},{"b":"B2","t":1.625,"lo":156.57,"hi":157.47},{"b":"B2","t":1.75,"lo":156.84,"hi":157.59},{"b":"B2","t":1.875,"lo":156.40,"hi":157.60},{"b":"B2","t":2,"lo":156.98,"hi":157.83},{"b":"B2","t":2.125,"lo":157.01,"hi":157.86},{"b":"B2","t":2.25,"lo":156.98,"hi":157.98},{"b":"B2","t":2.375,"lo":157.01,"hi":157.86},{"b":"B2","t":2.5,"lo":157.18,"hi":157.88},{"b":"B2","t":2.625,"lo":157.28,"hi":158.18},{"b":"B2","t":2.75,"lo":157.10,"hi":158.05},{"b":"B2","t":2.875,"lo":157.30,"hi":158.10},{"b":"B2","t":3,"lo":157.47,"hi":158.27},{"b":"B2","t":3.125,"lo":157.34,"hi":158.44},{"b":"B2","t":3.25,"lo":157.63,"hi":158.33},{"b":"B2","t":3.375,"lo":157.30,"hi":158.20},{"b":"B2","t":3.5,"lo":157.66,"hi":158.56},{"b":"B2","t":3.625,"lo":157.71,"hi":158.46},{"b":"B2","t":3.75,"lo":157.54,"hi":158.49},{"b":"B2","t":3.875,"lo":157.84,"hi":158.59},{"b":"B2","t":4,"lo":157.88,"hi":158.78},{"b":"B2","t":4.125,"lo":157.86,"hi":158.71},{"b":"B2","t":4.25,"lo":157.58,"hi":158.58},{"b":"B2","t":4.375,"lo":158.04,"hi":158.89},{"b":"B2","t":4.5,"lo":158.08,"hi":158.88},{"b":"B2","t":4.625,"lo":157.91,"hi":158.86},{"b":"B2","t":4.75,"lo":158.23,"hi":158.88},{"b":"B2","t":4.875,"lo":158.04,"hi":159.04},{"b":"B2","t":5,"lo":158.25,"hi":159.05},
{"b":"B3","t":0,"lo":159.05,"hi":159.85},{"b":"B3","t":0.125,"lo":158.91,"hi":159.91},{"b":"B3","t":0.25,"lo":159.17,"hi":159.82},{"b":"B3","t":0.375,"lo":158.92,"hi":159.87},{"b":"B3","t":0.5,"lo":159.16,"hi":159.96},{"b":"B3","t":0.625,"lo":159.18,"hi":160.03},{"b":"B3","t":0.75,"lo":158.79,"hi":159.79},{"b":"B3","t":0.875,"lo":159.14,"hi":159.99},{"b":"B3","t":1,"lo":159.23,"hi":160.13},{"b":"B3","t":1.125,"lo":159.27,"hi":160.02},{"b":"B3","t":1.25,"lo":159.06,"hi":160.01},{"b":"B3","t":1.375,"lo":159.31,"hi":160.06},{"b":"B3","t":1.5,"lo":159.35,"hi":160.25},{"b":"B3","t":1.625,"lo":159.08,"hi":159.98},{"b":"B3","t":1.75,"lo":159.52,"hi":160.22},{"b":"B3","t":1.875,"lo":159.34,"hi":160.44},{"b":"B3","t":2,"lo":159.58,"hi":160.38},{"b":"B3","t":2.125,"lo":159.52,"hi":160.32},{"b":"B3","t":2.25,"lo":159.43,"hi":160.38},{"b":"B3","t":2.375,"lo":159.72,"hi":160.62},{"b":"B3","t":2.5,"lo":159.73,"hi":160.43},{"b":"B3","t":2.625,"lo":159.67,"hi":160.52},{"b":"B3","t":2.75,"lo":159.74,"hi":160.74},{"b":"B3","t":2.875,"lo":159.89,"hi":160.74},{"b":"B3","t":3,"lo":159.97,"hi":160.82},{"b":"B3","t":3.125,"lo":159.49,"hi":160.69},{"b":"B3","t":3.25,"lo":160.04,"hi":160.79},{"b":"B3","t":3.375,"lo":159.89,"hi":160.79},{"b":"B3","t":3.5,"lo":160.21,"hi":161.36},{"b":"B3","t":3.625,"lo":160.17,"hi":161.07},{"b":"B3","t":3.75,"lo":159.81,"hi":160.91},{"b":"B3","t":3.875,"lo":160.37,"hi":161.02},{"b":"B3","t":4,"lo":160.15,"hi":161.05},{"b":"B3","t":4.125,"lo":160.24,"hi":161.64},{"b":"B3","t":4.25,"lo":160.52,"hi":161.37},{"b":"B3","t":4.375,"lo":160.04,"hi":161.29},{"b":"B3","t":4.5,"lo":160.32,"hi":161.17},{"b":"B3","t":4.625,"lo":160.60,"hi":161.70},{"b":"B3","t":4.75,"lo":160.30,"hi":161.25},{"b":"B3","t":4.875,"lo":160.73,"hi":161.48},{"b":"B3","t":5,"lo":160.65,"hi":161.50},
{"b":"B4","t":0,"lo":161.53,"hi":162.23},{"b":"B4","t":0.125,"lo":161.63,"hi":162.53},{"b":"B4","t":0.25,"lo":161.44,"hi":162.39},{"b":"B4","t":0.375,"lo":161.64,"hi":162.44},{"b":"B4","t":0.5,"lo":161.80,"hi":162.60},{"b":"B4","t":0.625,"lo":161.67,"hi":162.77},{"b":"B4","t":0.75,"lo":161.95,"hi":162.65},{"b":"B4","t":0.875,"lo":161.62,"hi":162.52},{"b":"B4","t":1,"lo":161.97,"hi":162.87},{"b":"B4","t":1.125,"lo":162.00,"hi":162.75},{"b":"B4","t":1.25,"lo":161.81,"hi":162.76},{"b":"B4","t":1.375,"lo":162.08,"hi":162.83},{"b":"B4","t":1.5,"lo":162.10,"hi":163.00},{"b":"B4","t":1.625,"lo":162.07,"hi":162.92},{"b":"B4","t":1.75,"lo":161.79,"hi":162.79},{"b":"B4","t":1.875,"lo":162.25,"hi":163.10},{"b":"B4","t":2,"lo":162.29,"hi":163.09},{"b":"B4","t":2.125,"lo":162.12,"hi":163.07},{"b":"B4","t":2.25,"lo":162.43,"hi":163.08},{"b":"B4","t":2.375,"lo":162.24,"hi":163.24},{"b":"B4","t":2.5,"lo":162.45,"hi":163.25},{"b":"B4","t":2.625,"lo":162.43,"hi":163.28},{"b":"B4","t":2.75,"lo":162.59,"hi":163.34},{"b":"B4","t":2.875,"lo":162.24,"hi":163.19},{"b":"B4","t":3,"lo":162.63,"hi":163.73},{"b":"B4","t":3.125,"lo":162.43,"hi":163.28},{"b":"B4","t":3.25,"lo":162.23,"hi":163.48},{"b":"B4","t":3.375,"lo":162.79,"hi":163.64},{"b":"B4","t":3.5,"lo":162.58,"hi":163.98},{"b":"B4","t":3.625,"lo":162.57,"hi":163.47},{"b":"B4","t":3.75,"lo":162.87,"hi":163.52},{"b":"B4","t":3.875,"lo":162.37,"hi":163.47},{"b":"B4","t":4,"lo":162.80,"hi":163.70},{"b":"B4","t":4.125,"lo":162.94,"hi":164.09},{"b":"B4","t":4.25,"lo":162.71,"hi":163.61},{"b":"B4","t":4.375,"lo":162.96,"hi":163.71},{"b":"B4","t":4.5,"lo":162.51,"hi":163.71},{"b":"B4","t":4.625,"lo":163.08,"hi":163.93},{"b":"B4","t":4.75,"lo":163.10,"hi":163.95},{"b":"B4","t":4.875,"lo":163.05,"hi":164.05},{"b":"B4","t":5,"lo":163.07,"hi":163.92},
{"b":"B5","t":0,"lo":163.85,"hi":164.95},{"b":"B5","t":0.125,"lo":164.28,"hi":165.18},{"b":"B5","t":0.25,"lo":164.39,"hi":165.54},{"b":"B5","t":0.375,"lo":164.14,"hi":165.04},{"b":"B5","t":0.5,"lo":164.36,"hi":165.11},{"b":"B5","t":0.625,"lo":163.89,"hi":165.09},{"b":"B5","t":0.75,"lo":164.43,"hi":165.28},{"b":"B5","t":0.875,"lo":164.43,"hi":165.28},{"b":"B5","t":1,"lo":164.35,"hi":165.35},{"b":"B5","t":1.125,"lo":164.33,"hi":165.18},{"b":"B5","t":1.25,"lo":164.45,"hi":165.15},{"b":"B5","t":1.375,"lo":164.51,"hi":165.41},{"b":"B5","t":1.5,"lo":164.28,"hi":165.23},{"b":"B5","t":1.625,"lo":164.45,"hi":165.25},{"b":"B5","t":1.75,"lo":164.59,"hi":165.39},{"b":"B5","t":1.875,"lo":164.45,"hi":165.55},{"b":"B5","t":2,"lo":164.71,"hi":165.41},{"b":"B5","t":2.125,"lo":164.37,"hi":165.27},{"b":"B5","t":2.25,"lo":164.70,"hi":165.60},{"b":"B5","t":2.375,"lo":164.74,"hi":165.49},{"b":"B5","t":2.5,"lo":164.55,"hi":165.50},{"b":"B5","t":2.625,"lo":164.81,"hi":165.56},{"b":"B5","t":2.75,"lo":164.83,"hi":165.73},{"b":"B5","t":2.875,"lo":164.78,"hi":165.63},{"b":"B5","t":3,"lo":164.47,"hi":165.47},{"b":"B5","t":3.125,"lo":164.91,"hi":165.76},{"b":"B5","t":3.25,"lo":164.92,"hi":165.72},{"b":"B5","t":3.375,"lo":164.73,"hi":165.68},{"b":"B5","t":3.5,"lo":165.02,"hi":165.67},{"b":"B5","t":3.625,"lo":164.81,"hi":165.81},{"b":"B5","t":3.75,"lo":165.00,"hi":165.80},{"b":"B5","t":3.875,"lo":164.97,"hi":165.82},{"b":"B5","t":4,"lo":165.13,"hi":165.88},{"b":"B5","t":4.125,"lo":164.78,"hi":165.73},{"b":"B5","t":4.25,"lo":165.16,"hi":166.06},{"b":"B5","t":4.375,"lo":164.96,"hi":165.81},{"b":"B5","t":4.5,"lo":164.77,"hi":165.92},{"b":"B5","t":4.625,"lo":165.33,"hi":166.08},{"b":"B5","t":4.75,"lo":165.13,"hi":166.03},{"b":"B5","t":4.875,"lo":165.12,"hi":166.02},{"b":"B5","t":5,"lo":165.42,"hi":166.07},
{"b":"B6","t":0,"lo":166.45,"hi":166.92},{"b":"B6","t":0.25,"lo":166.55,"hi":166.92},{"b":"B6","t":0.5,"lo":166.45,"hi":166.92},{"b":"B6","t":0.75,"lo":166.5,"hi":166.92},{"b":"B6","t":1,"lo":166.5,"hi":166.92},{"b":"B6","t":1.25,"lo":166.55,"hi":166.92},{"b":"B6","t":1.5,"lo":166.6,"hi":166.92},{"b":"B6","t":1.75,"lo":166.6,"hi":166.92},{"b":"B6","t":2,"lo":166.65,"hi":166.92},{"b":"B6","t":2.25,"lo":166.7,"hi":166.92},{"b":"B6","t":2.5,"lo":166.75,"hi":166.92},{"b":"B6","t":2.75,"lo":166.78,"hi":166.92},{"b":"B6","t":3,"lo":166.75,"hi":166.92},{"b":"B6","t":3.25,"lo":166.78,"hi":166.92},{"b":"B6","t":3.5,"lo":166.8,"hi":166.92},{"b":"B6","t":3.75,"lo":166.78,"hi":166.92},{"b":"B6","t":4,"lo":166.8,"hi":166.92},{"b":"B6","t":4.25,"lo":166.78,"hi":166.92},{"b":"B6","t":4.5,"lo":166.8,"hi":166.92},{"b":"B6","t":4.75,"lo":166.7,"hi":166.92},{"b":"B6","t":5,"lo":166.75,"hi":166.92}
],
"spk":[{"t":0.27,"lo":156.6,"hi":158.4},{"t":0.405,"lo":157.0,"hi":158.7},{"t":0.41,"lo":159.5,"hi":161.3},{"t":0.03,"lo":161.9,"hi":163.0},{"t":0.15,"lo":164.3,"hi":165.6},{"t":0.7,"lo":155.9,"hi":157.0},{"t":1.35,"lo":158.8,"hi":159.6},{"t":2.3,"lo":157.2,"hi":159.0},{"t":2.33,"lo":160.2,"hi":161.6},{"t":4.89,"lo":154.5,"hi":156.6},{"t":2.62,"lo":158.6,"hi":159.6},{"t":3.75,"lo":161.0,"hi":162.0},
{"t":0.1,"lo":155.9,"hi":157.6},{"t":0.55,"lo":156.0,"hi":157.5},{"t":0.95,"lo":156.1,"hi":157.6},{"t":1.6,"lo":156.4,"hi":157.9},{"t":2.05,"lo":156.7,"hi":158.2},{"t":2.9,"lo":157.0,"hi":158.5},{"t":3.4,"lo":157.3,"hi":158.6},{"t":4.0,"lo":157.6,"hi":159.1},{"t":4.6,"lo":157.8,"hi":159.2},
{"t":0.2,"lo":158.7,"hi":160.2},{"t":0.6,"lo":158.8,"hi":160.3},{"t":1.05,"lo":158.9,"hi":160.4},{"t":1.45,"lo":159.0,"hi":160.5},{"t":2.6,"lo":159.4,"hi":160.9},{"t":3.2,"lo":159.6,"hi":161.1},{"t":3.55,"lo":159.9,"hi":161.6},{"t":4.3,"lo":160.2,"hi":161.7},{"t":4.75,"lo":160.4,"hi":161.8},
{"t":0.35,"lo":161.3,"hi":162.8},{"t":0.85,"lo":161.5,"hi":163.0},{"t":1.85,"lo":161.9,"hi":163.4},{"t":2.5,"lo":162.2,"hi":163.5},{"t":3.05,"lo":162.3,"hi":163.8},{"t":3.85,"lo":162.4,"hi":163.7},{"t":4.45,"lo":162.6,"hi":164.1},{"t":4.9,"lo":162.8,"hi":164.2},
{"t":0.05,"lo":163.7,"hi":165.2},{"t":0.45,"lo":164.0,"hi":165.5},{"t":1.1,"lo":164.1,"hi":165.6},{"t":1.9,"lo":164.3,"hi":165.7},{"t":2.8,"lo":164.6,"hi":166.0},{"t":3.4,"lo":164.7,"hi":166.0},{"t":4.1,"lo":164.8,"hi":166.1},{"t":4.7,"lo":165.0,"hi":166.3},
{"t":0.05,"lo":166.2,"hi":166.9},{"t":0.33,"lo":166.3,"hi":166.9},{"t":0.62,"lo":166.1,"hi":166.9},{"t":0.9,"lo":166.35,"hi":166.9},{"t":1.2,"lo":166.25,"hi":166.9},{"t":1.5,"lo":166.4,"hi":166.9},{"t":1.95,"lo":166.3,"hi":166.9},{"t":2.4,"lo":166.5,"hi":166.9},{"t":3.1,"lo":166.5,"hi":166.9},{"t":3.6,"lo":166.3,"hi":166.9},{"t":4.2,"lo":166.45,"hi":166.9},{"t":4.78,"lo":166.0,"hi":166.9},{"t":4.82,"lo":166.2,"hi":166.9},{"t":4.86,"lo":166.3,"hi":166.9}],
"ev":[{"r":42,"t":1.296,"c":"TL"},{"r":42,"t":3.44,"c":"TL"},{"r":44,"t":1.639,"c":"RE"},{"r":51,"t":2.77,"c":"RE"},{"r":53,"t":0.44,"c":"RE"},{"r":67,"t":0.196,"c":"RE"},{"r":83,"t":3.24,"c":"RE"},{"r":84,"t":0.755,"c":"DS"},{"r":86,"t":0.963,"c":"DS"},{"r":90,"t":0.279,"c":"TL"},{"r":106,"t":0.607,"c":"RE"},{"r":112,"t":4.06,"c":"TL"},{"r":118,"t":4.49,"c":"RE"},{"r":119,"t":2.16,"c":"RE"},{"r":126,"t":1.66,"c":"TL"},{"r":129,"t":1.34,"c":"TL"},{"r":145,"t":2.32,"c":"RE"},{"r":153,"t":1.28,"c":"RE"},{"r":155,"t":1.25,"c":"TL"},{"r":156,"t":0.847,"c":"RE"},{"r":166,"t":0.415,"c":"DS"},{"r":166,"t":3.59,"c":"DS"},{"r":172,"t":4.14,"c":"RE"},{"r":181,"t":1.31,"c":"RE"},{"r":189,"t":0.028,"c":"RE"},{"r":195,"t":1.01,"c":"RE"},{"r":198,"t":3.0,"c":"DS"},{"r":204,"t":3.52,"c":"TL"},{"r":220,"t":2.6,"c":"IC"},{"r":224,"t":1.685,"c":"IC"},{"r":231,"t":2.715,"c":"TL"},{"r":231,"t":2.735,"c":"TL"},{"r":232,"t":4.39,"c":"DS"},{"r":236,"t":0.108,"c":"RE"},{"r":262,"t":3.2,"c":"IC"},{"r":264,"t":3.45,"c":"RE"},{"r":265,"t":4.17,"c":"RE"},{"r":267,"t":3.6,"c":"IC"},{"r":268,"t":0.19,"c":"IC"},{"r":268,"t":1.27,"c":"IC"},{"r":270,"t":0.79,"c":"IC"},{"r":272,"t":3.63,"c":"TL"},{"r":273,"t":1.02,"c":"IC"},{"r":276,"t":2.98,"c":"RE"},{"r":277,"t":1.74,"c":"IC"},{"r":277,"t":2.92,"c":"RE"},{"r":280,"t":2.49,"c":"IC"},{"r":285,"t":3.32,"c":"IC"}],
"labs":[{"r":0,"s":"00:00"},{"r":24,"s":"02:00"},{"r":48,"s":"04:00"},{"r":72,"s":"06:00"},{"r":96,"s":"08:00"},{"r":120,"s":"10:00"},{"r":144,"s":"12:00"},{"r":168,"s":"14:00"},{"r":192,"s":"16:00"},{"r":216,"s":"18:00"},{"r":240,"s":"20:00"},{"r":264,"s":"22:00"},{"r":288,"s":"00:00"}],
"ttl":[{"s":"NIDZ","t":2.218},{"s":"2023/7/16 00:00","t":2.354},{"s":"(1)","t":2.677},{"s":"[2000]","t":2.753},{"s":"(T)","t":2.871}],
"leg":[{"c":"VT","t":0.0937},{"c":"LP","t":0.1724},{"c":"BQ","t":0.2512},{"c":"HB","t":0.3299},{"c":"TR","t":0.4087},{"c":"TI","t":0.4874},{"c":"EX","t":0.5661},{"c":"SM","t":0.6449},{"c":"TO","t":0.7236},{"c":"AV","t":0.8024},{"c":"IC","t":0.8811},{"c":"CA","t":0.9598},{"c":"IF","t":1.0386},{"c":"SD","t":1.1173},{"c":"ZZ","t":4.5031},{"c":"CN","t":4.5801},{"c":"RY","t":4.6588},{"c":"TL","t":4.7375},{"c":"RE","t":4.8163},{"c":"DS","t":4.8924}],
"legt":[{"s":"Sismos Volcánicos","t":0.2992},{"s":"Sismos No Volcánicos","t":4.7139}]
},
"layer":[
{"data":{"name":"rows"},"transform":[{"filter":"datum.r <= 283 && datum.r != -4 && !(datum.r >= 84 && datum.r <= 90) && !(datum.r >= 154 && datum.r <= 167) && !(datum.r >= 253 && datum.r <= 262) && datum.r != 175 && datum.r != 243 && datum.r != 48"}],
 "mark":{"type":"rule","color":"black","strokeWidth":1.5},
 "encoding":{"x":{"datum":0,"type":"quantitative","scale":{"domain":[-0.026247,5.01312],"nice":false,"zero":false},"axis":null},"x2":{"datum":5},"y":{"field":"r","type":"quantitative","scale":{"domain":[-4.465,309.33],"nice":false,"zero":false,"reverse":true},"axis":null}}},
{"data":{"name":"segs"},"mark":{"type":"rule","color":"black","strokeWidth":1.5},
 "encoding":{"x":{"field":"t0","type":"quantitative","scale":{"domain":[-0.026247,5.01312],"nice":false,"zero":false},"axis":null},"x2":{"field":"t1"},"y":{"field":"r","type":"quantitative","scale":{"domain":[-4.465,309.33],"nice":false,"zero":false,"reverse":true},"axis":null}}},
{"data":{"name":"tr"},"mark":{"type":"line","color":"black","strokeWidth":1.4},
 "encoding":{"x":{"field":"t","type":"quantitative","scale":{"domain":[-0.026247,5.01312],"nice":false,"zero":false},"axis":null},"y":{"field":"v","type":"quantitative","scale":{"domain":[-4.465,309.33],"nice":false,"zero":false,"reverse":true},"axis":null},"detail":{"field":"k","type":"nominal"}}},
{"data":{"name":"tr"},"transform":[{"filter":{"field":"k","oneOf":["C3","C5","C8","C14","C2","C12"]}}],"mark":{"type":"line","color":"black","strokeWidth":2.6},
 "encoding":{"x":{"field":"t","type":"quantitative","scale":{"domain":[-0.026247,5.01312],"nice":false,"zero":false},"axis":null},"y":{"field":"v","type":"quantitative","scale":{"domain":[-4.465,309.33],"nice":false,"zero":false,"reverse":true},"axis":null},"detail":{"field":"k","type":"nominal"}}},
{"data":{"name":"trx"},"mark":{"type":"line","color":"black","strokeWidth":3.6,"strokeJoin":"round"},
 "encoding":{"x":{"field":"t","type":"quantitative","scale":{"domain":[-0.026247,5.01312],"nice":false,"zero":false},"axis":null},"y":{"field":"v","type":"quantitative","scale":{"domain":[-4.465,309.33],"nice":false,"zero":false,"reverse":true},"axis":null},"detail":{"field":"k","type":"nominal"}}},
{"data":{"name":"bands"},"mark":{"type":"area","color":"black","opacity":1},
 "encoding":{"x":{"field":"t","type":"quantitative","scale":{"domain":[-0.026247,5.01312],"nice":false,"zero":false},"axis":null},"y":{"field":"lo","type":"quantitative","scale":{"domain":[-4.465,309.33],"nice":false,"zero":false,"reverse":true},"axis":null},"y2":{"field":"hi"},"detail":{"field":"b","type":"nominal"}}},
{"data":{"name":"spk"},"mark":{"type":"rule","color":"black","strokeWidth":1.2},
 "encoding":{"x":{"field":"t","type":"quantitative","scale":{"domain":[-0.026247,5.01312],"nice":false,"zero":false},"axis":null},"y":{"field":"lo","type":"quantitative","scale":{"domain":[-4.465,309.33],"nice":false,"zero":false,"reverse":true},"axis":null},"y2":{"field":"hi"}}},
{"data":{"name":"rows"},"transform":[{"filter":"datum.r >= 0 && datum.r <= 287"}],"mark":{"type":"point","filled":false,"color":"#ff5000","strokeWidth":1,"size":36,"shape":"M-0.95,1V-0.55H0.95V1","yOffset":-4,"opacity":1},
 "encoding":{"x":{"datum":1,"type":"quantitative","scale":{"domain":[-0.026247,5.01312],"nice":false,"zero":false},"axis":null},"y":{"field":"r","type":"quantitative","scale":{"domain":[-4.465,309.33],"nice":false,"zero":false,"reverse":true},"axis":null}}},
{"data":{"name":"rows"},"transform":[{"filter":"datum.r >= 0 && datum.r <= 287"}],"mark":{"type":"point","filled":false,"color":"#ff5000","strokeWidth":1,"size":36,"shape":"M-0.95,1V-0.55H0.95V1","yOffset":-4,"opacity":1},
 "encoding":{"x":{"datum":2,"type":"quantitative","scale":{"domain":[-0.026247,5.01312],"nice":false,"zero":false},"axis":null},"y":{"field":"r","type":"quantitative","scale":{"domain":[-4.465,309.33],"nice":false,"zero":false,"reverse":true},"axis":null}}},
{"data":{"name":"rows"},"transform":[{"filter":"datum.r >= 0 && datum.r <= 287"}],"mark":{"type":"point","filled":false,"color":"#ff5000","strokeWidth":1,"size":36,"shape":"M-0.95,1V-0.55H0.95V1","yOffset":-4,"opacity":1},
 "encoding":{"x":{"datum":3,"type":"quantitative","scale":{"domain":[-0.026247,5.01312],"nice":false,"zero":false},"axis":null},"y":{"field":"r","type":"quantitative","scale":{"domain":[-4.465,309.33],"nice":false,"zero":false,"reverse":true},"axis":null}}},
{"data":{"name":"rows"},"transform":[{"filter":"datum.r >= 0 && datum.r <= 287"}],"mark":{"type":"point","filled":false,"color":"#ff5000","strokeWidth":1,"size":36,"shape":"M-0.95,1V-0.55H0.95V1","yOffset":-4,"opacity":1},
 "encoding":{"x":{"datum":4,"type":"quantitative","scale":{"domain":[-0.026247,5.01312],"nice":false,"zero":false},"axis":null},"y":{"field":"r","type":"quantitative","scale":{"domain":[-4.465,309.33],"nice":false,"zero":false,"reverse":true},"axis":null}}},
{"data":{"name":"rows"},"transform":[{"filter":"datum.r >= 1 && datum.r <= 287 && datum.r % 6 != 0"}],"mark":{"type":"point","filled":false,"color":"#ff5000","strokeWidth":1,"size":36,"shape":"M-0.95,1V-0.55H0.95V1","yOffset":-4,"opacity":1},
 "encoding":{"x":{"datum":0.00787,"type":"quantitative","scale":{"domain":[-0.026247,5.01312],"nice":false,"zero":false},"axis":null},"y":{"field":"r","type":"quantitative","scale":{"domain":[-4.465,309.33],"nice":false,"zero":false,"reverse":true},"axis":null}}},
{"data":{"name":"rows"},"transform":[{"filter":"datum.r >= 1 && datum.r <= 287 && datum.r % 6 == 0 && datum.r % 12 != 0"}],"mark":{"type":"point","filled":false,"color":"#ff0000","strokeWidth":1,"size":81,"shape":"M-1,1V-1H1V1","yOffset":-4.5,"opacity":1},
 "encoding":{"x":{"datum":0.01155,"type":"quantitative","scale":{"domain":[-0.026247,5.01312],"nice":false,"zero":false},"axis":null},"y":{"field":"r","type":"quantitative","scale":{"domain":[-4.465,309.33],"nice":false,"zero":false,"reverse":true},"axis":null}}},
{"data":{"name":"rows"},"transform":[{"filter":"datum.r >= 1 && datum.r <= 287 && datum.r % 12 == 0 && datum.r != 144"}],"mark":{"type":"point","filled":false,"color":"#0000ff","strokeWidth":2,"size":130,"shape":"M-1,0.8V-0.8H1V0.8","yOffset":-4.6,"opacity":1},
 "encoding":{"x":{"datum":0.0131,"type":"quantitative","scale":{"domain":[-0.026247,5.01312],"nice":false,"zero":false},"axis":null},"y":{"field":"r","type":"quantitative","scale":{"domain":[-4.465,309.33],"nice":false,"zero":false,"reverse":true},"axis":null}}},
{"data":{"name":"rows"},"transform":[{"filter":"datum.r == 144"}],"mark":{"type":"point","filled":false,"color":"#008000","strokeWidth":2,"size":130,"shape":"M-1,0.8V-0.8H1V0.8","yOffset":-4.6,"opacity":1},
 "encoding":{"x":{"datum":0.0131,"type":"quantitative","scale":{"domain":[-0.026247,5.01312],"nice":false,"zero":false},"axis":null},"y":{"field":"r","type":"quantitative","scale":{"domain":[-4.465,309.33],"nice":false,"zero":false,"reverse":true},"axis":null}}},
{"data":{"name":"rows"},"transform":[{"filter":"datum.r == 0 || datum.r == 288"}],"mark":{"type":"point","filled":false,"color":"#8b0000","strokeWidth":2,"size":361,"shape":"M-1,0.58V-0.58H1V0.58","yOffset":-5.6,"opacity":1},
 "encoding":{"x":{"datum":0.0249,"type":"quantitative","scale":{"domain":[-0.026247,5.01312],"nice":false,"zero":false},"axis":null},"y":{"field":"r","type":"quantitative","scale":{"domain":[-4.465,309.33],"nice":false,"zero":false,"reverse":true},"axis":null}}},
{"data":{"name":"ev"},"mark":{"type":"point","filled":true,"stroke":"black","strokeWidth":1,"size":130,"shape":"circle","opacity":1},
 "encoding":{"x":{"field":"t","type":"quantitative","scale":{"domain":[-0.026247,5.01312],"nice":false,"zero":false},"axis":null},"y":{"field":"r","type":"quantitative","scale":{"domain":[-4.465,309.33],"nice":false,"zero":false,"reverse":true},"axis":null},
 "fill":{"field":"c","type":"nominal","scale":{"domain":["VT","LP","BQ","HB","TR","TI","EX","SM","TO","AV","IC","CA","IF","SD","ZZ","CN","RY","TL","RE","DS"],"range":["#ff0000","#ffff00","#f3e3a6","#ff8000","#1e90ff","#00ffff","#800080","#eeaaee","#ffa500","#1f7f5f","#e6e6e6","#4a2040","#ff00ff","#33cc33","#8030c0","#4a3858","#583050","#0000ff","#787878","#d2b48c"]},"legend":null}}},
{"data":{"name":"labs"},"mark":{"type":"text","color":"#0000ff","font":"Liberation Sans","fontWeight":"bold","fontSize":12.5,"align":"left","baseline":"alphabetic","dy":-1.5},
 "encoding":{"x":{"datum":0.0577,"type":"quantitative","scale":{"domain":[-0.026247,5.01312],"nice":false,"zero":false},"axis":null},"y":{"field":"r","type":"quantitative","scale":{"domain":[-4.465,309.33],"nice":false,"zero":false,"reverse":true},"axis":null},"text":{"field":"s"}}},
{"data":{"name":"ttl"},"mark":{"type":"text","color":"#0000ff","font":"Liberation Serif","fontSize":14,"align":"left","baseline":"alphabetic"},
 "encoding":{"x":{"field":"t","type":"quantitative","scale":{"domain":[-0.026247,5.01312],"nice":false,"zero":false},"axis":null},"y":{"datum":-3.06,"type":"quantitative","scale":{"domain":[-4.465,309.33],"nice":false,"zero":false,"reverse":true},"axis":null},"text":{"field":"s"}}},
{"data":{"name":"leg"},"mark":{"type":"point","filled":true,"stroke":"black","strokeWidth":1,"size":140,"shape":"circle","opacity":1},
 "encoding":{"x":{"field":"t","type":"quantitative","scale":{"domain":[-0.026247,5.01312],"nice":false,"zero":false},"axis":null},"y":{"datum":305.46,"type":"quantitative","scale":{"domain":[-4.465,309.33],"nice":false,"zero":false,"reverse":true},"axis":null},
 "fill":{"field":"c","type":"nominal","scale":{"domain":["VT","LP","BQ","HB","TR","TI","EX","SM","TO","AV","IC","CA","IF","SD","ZZ","CN","RY","TL","RE","DS"],"range":["#ff0000","#ffff00","#f3e3a6","#ff8000","#1e90ff","#00ffff","#800080","#eeaaee","#ffa500","#1f7f5f","#e6e6e6","#4a2040","#ff00ff","#33cc33","#8030c0","#4a3858","#583050","#0000ff","#787878","#d2b48c"]},"legend":null}}},
{"data":{"name":"leg"},"mark":{"type":"text","color":"black","font":"Liberation Serif","fontWeight":"bold","fontSize":16,"align":"center","baseline":"alphabetic"},
 "encoding":{"x":{"field":"t","type":"quantitative","scale":{"domain":[-0.026247,5.01312],"nice":false,"zero":false},"axis":null},"y":{"datum":307.42,"type":"quantitative","scale":{"domain":[-4.465,309.33],"nice":false,"zero":false,"reverse":true},"axis":null},"text":{"field":"c"}}},
{"data":{"name":"legt"},"mark":{"type":"text","color":"black","font":"Liberation Serif","fontWeight":"bold","fontSize":15,"align":"center","baseline":"alphabetic"},
 "encoding":{"x":{"field":"t","type":"quantitative","scale":{"domain":[-0.026247,5.01312],"nice":false,"zero":false},"axis":null},"y":{"datum":304.24,"type":"quantitative","scale":{"domain":[-4.465,309.33],"nice":false,"zero":false,"reverse":true},"axis":null},"text":{"field":"s"}}}
]
}
